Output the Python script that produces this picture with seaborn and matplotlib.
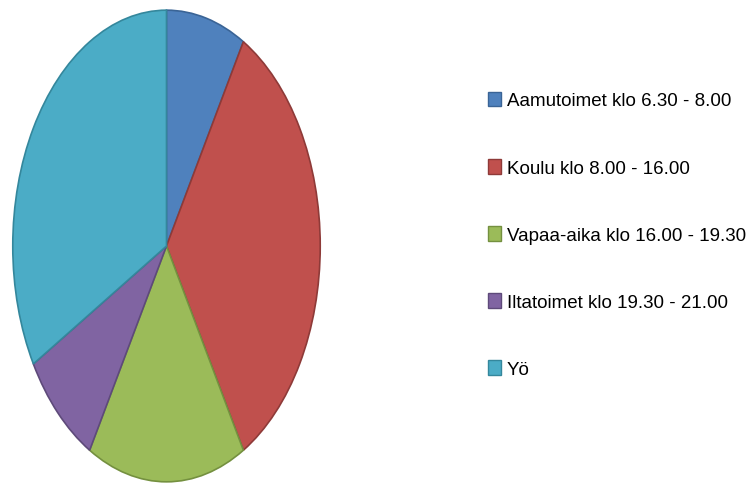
import matplotlib
matplotlib.use("Agg")
import matplotlib.pyplot as plt
import seaborn as sns
from matplotlib.patches import Patch

# hours per part of the day
labels = [
    "Aamutoimet klo 6.30 - 8.00",
    "Koulu klo 8.00 - 16.00",
    "Vapaa-aika klo 16.00 - 19.30",
    "Iltatoimet klo 19.30 - 21.00",
    "Yö",
]
hours = [2, 8, 4, 2, 8]
colors = ["#4F81BD", "#C0504D", "#9BBB59", "#8064A2", "#4BACC6"]
edges = ["#3A6496", "#8E3A38", "#74903F", "#5E4A7A", "#34879C"]

sns.set_style("white")
plt.rcParams["font.family"] = ["Liberation Sans", "DejaVu Sans"]

fig = plt.figure(figsize=(7.49, 4.85), dpi=100)
# pie is stretched vertically in the original, so use a non-equal aspect axes
ax = fig.add_axes([12 / 749, 1 - 484 / 485, 309 / 749, 474 / 485])
wedges, _ = ax.pie(hours, colors=colors, startangle=90, counterclock=False,
                   radius=1.0, wedgeprops=dict(linewidth=1.2))
for w, ec in zip(wedges, edges):
    w.set_edgecolor(ec)
ax.set_aspect("auto")
ax.set_xlim(-1.005, 1.005)
ax.set_ylim(-1.005, 1.005)
ax.axis("off")

handles = [Patch(facecolor=c, edgecolor=e, linewidth=1.0) for c, e in zip(colors, edges)]
leg = fig.legend(handles, labels, loc="upper left", bbox_to_anchor=(480 / 749, 1 - 85 / 485),
                 frameon=False, handlelength=0.72, handleheight=0.85,
                 handletextpad=0.32, labelspacing=2.62, borderaxespad=0,
                 prop=dict(family=["Liberation Sans", "DejaVu Sans"], size=13.5))
for t in leg.get_texts():
    t.set_color("#000000")

fig.savefig("out.png", dpi=100)
